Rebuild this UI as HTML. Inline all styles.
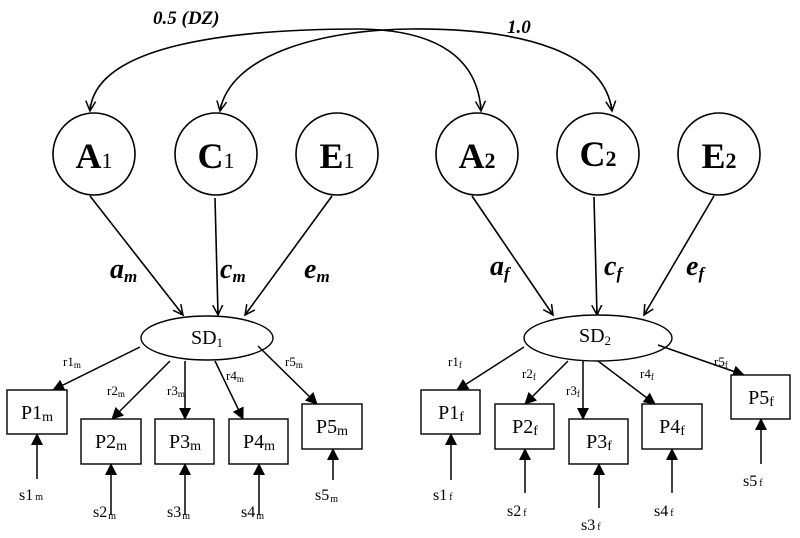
<!DOCTYPE html>
<html><head><meta charset="utf-8"><style>
html,body{margin:0;padding:0;background:#fff;}
svg{display:block;}
.l{font-family:"Liberation Serif",serif;}
</style></head><body>
<svg width="800" height="538" viewBox="0 0 800 538" xmlns="http://www.w3.org/2000/svg">
<defs>
<marker id="v" markerWidth="12" markerHeight="12" refX="10" refY="6" orient="auto-start-reverse" markerUnits="userSpaceOnUse">
<path d="M0,1 L10,6 L0,11 M10,6 L3,6" fill="none" stroke="#000" stroke-width="1.5"/>
</marker>
<marker id="t" markerWidth="12" markerHeight="12" refX="11" refY="6" orient="auto" markerUnits="userSpaceOnUse">
<path d="M0,0 L12,6 L0,12 Z" fill="#000"/>
</marker>
</defs>
<g fill="none" stroke="#000" stroke-width="1.6">
<path d="M90,111 C95,45 230,29 360,29 C440,30 478,60 481,111" marker-start="url(#v)" marker-end="url(#v)"/>
<path d="M220,111 C230,55 320,30 410,29 C530,28 605,55 612,111" marker-start="url(#v)" marker-end="url(#v)"/>
</g>
<g fill="#fff" stroke="#000" stroke-width="1.6">
<circle cx="94" cy="154" r="41"/><circle cx="216" cy="154" r="41"/><circle cx="337" cy="154" r="41"/>
<circle cx="477" cy="154" r="41"/><circle cx="598" cy="154" r="41"/><circle cx="719" cy="154" r="41"/>
</g>
<g class="l" font-weight="bold" font-size="36" text-anchor="middle">
<text x="94" y="168">A<tspan font-size="22" font-weight="normal">1</tspan></text>
<text x="216" y="168">C<tspan font-size="22" font-weight="normal">1</tspan></text>
<text x="337" y="168">E<tspan font-size="22" font-weight="normal">1</tspan></text>
<text x="477" y="168">A<tspan font-size="22">2</tspan></text>
<text x="598" y="166">C<tspan font-size="22">2</tspan></text>
<text x="719" y="168">E<tspan font-size="22">2</tspan></text>
</g>
<g class="l" font-weight="bold" font-style="italic">
<text x="153" y="24" font-size="19">0.5 (DZ)</text>
<text x="507" y="33" font-size="19">1.0</text>
<text x="110" y="278" font-size="28">a<tspan font-size="17" dy="4">m</tspan></text>
<text x="220" y="278" font-size="28">c<tspan font-size="17" dy="4">m</tspan></text>
<text x="304" y="278" font-size="28">e<tspan font-size="17" dy="4">m</tspan></text>
<text x="490" y="275" font-size="28">a<tspan font-size="17" dy="4">f</tspan></text>
<text x="604" y="275" font-size="28">c<tspan font-size="17" dy="4">f</tspan></text>
<text x="686" y="275" font-size="28">e<tspan font-size="17" dy="4">f</tspan></text>
</g>
<g fill="none" stroke="#000" stroke-width="1.6" marker-end="url(#v)">
<line x1="90" y1="196" x2="183" y2="315"/>
<line x1="215" y1="198" x2="218" y2="315"/>
<line x1="332" y1="196" x2="245" y2="315"/>
<line x1="472" y1="196" x2="553" y2="315"/>
<line x1="594" y1="197" x2="597" y2="315"/>
<line x1="714" y1="196" x2="644" y2="315"/>
</g>
<g fill="#fff" stroke="#000" stroke-width="1.4">
<ellipse cx="207" cy="338" rx="66" ry="22"/>
<ellipse cx="598" cy="338" rx="74" ry="23"/>
</g>
<g class="l" font-size="20" text-anchor="middle">
<text x="207" y="344">SD<tspan font-size="13" dy="3">1</tspan></text>
<text x="595" y="342">SD<tspan font-size="13" dy="3">2</tspan></text>
</g>
<g fill="none" stroke="#000" stroke-width="1.5" marker-end="url(#t)">
<line x1="140" y1="347" x2="53" y2="390"/>
<line x1="170" y1="361" x2="112" y2="419"/>
<line x1="185" y1="361" x2="185" y2="419"/>
<line x1="215" y1="361" x2="243" y2="419"/>
<line x1="258" y1="346" x2="317" y2="404"/>
<line x1="524" y1="347" x2="457" y2="390"/>
<line x1="568" y1="361" x2="525" y2="404"/>
<line x1="583" y1="361" x2="583" y2="419"/>
<line x1="598" y1="361" x2="655" y2="404"/>
<line x1="658" y1="345" x2="744" y2="375"/>
<line x1="37" y1="479" x2="37" y2="434"/>
<line x1="111" y1="515" x2="111" y2="464"/>
<line x1="185" y1="515" x2="185" y2="464"/>
<line x1="259" y1="515" x2="259" y2="464"/>
<line x1="333" y1="480" x2="333" y2="449"/>
<line x1="451" y1="480" x2="451" y2="434"/>
<line x1="525" y1="493" x2="525" y2="449"/>
<line x1="599" y1="508" x2="599" y2="464"/>
<line x1="672" y1="493" x2="672" y2="449"/>
<line x1="761" y1="464" x2="761" y2="419"/>
</g>
<g fill="#fff" stroke="#000" stroke-width="1.4">
<rect x="7" y="390" width="60" height="44"/>
<rect x="81" y="419" width="60" height="45"/>
<rect x="155" y="419" width="59" height="45"/>
<rect x="229" y="419" width="59" height="45"/>
<rect x="302" y="404" width="60" height="45"/>
<rect x="421" y="390" width="59" height="44"/>
<rect x="495" y="404" width="59" height="45"/>
<rect x="569" y="419" width="59" height="45"/>
<rect x="642" y="404" width="60" height="45"/>
<rect x="731" y="375" width="59" height="44"/>
</g>
<g class="l" font-size="20" text-anchor="middle">
<text x="37" y="419">P1<tspan font-size="14" dy="2">m</tspan></text>
<text x="111" y="448">P2<tspan font-size="14" dy="2">m</tspan></text>
<text x="185" y="448">P3<tspan font-size="14" dy="2">m</tspan></text>
<text x="259" y="448">P4<tspan font-size="14" dy="2">m</tspan></text>
<text x="332" y="433">P5<tspan font-size="14" dy="2">m</tspan></text>
<text x="451" y="419">P1<tspan font-size="14" dy="2">f</tspan></text>
<text x="525" y="433">P2<tspan font-size="14" dy="2">f</tspan></text>
<text x="599" y="448">P3<tspan font-size="14" dy="2">f</tspan></text>
<text x="672" y="433">P4<tspan font-size="14" dy="2">f</tspan></text>
<text x="761" y="404">P5<tspan font-size="14" dy="2">f</tspan></text>
</g>
<g class="l" font-size="13">
<text x="63" y="366">r1<tspan font-size="9" dy="2">m</tspan></text>
<text x="107" y="395">r2<tspan font-size="9" dy="2">m</tspan></text>
<text x="167" y="395">r3<tspan font-size="9" dy="2">m</tspan></text>
<text x="226" y="380">r4<tspan font-size="9" dy="2">m</tspan></text>
<text x="285" y="366">r5<tspan font-size="9" dy="2">m</tspan></text>
<text x="448" y="366">r1<tspan font-size="9" dy="2">f</tspan></text>
<text x="522" y="378">r2<tspan font-size="9" dy="2">f</tspan></text>
<text x="566" y="395">r3<tspan font-size="9" dy="2">f</tspan></text>
<text x="640" y="378">r4<tspan font-size="9" dy="2">f</tspan></text>
<text x="714" y="366">r5<tspan font-size="9" dy="2">f</tspan></text>
</g>
<g class="l" font-size="16">
<text x="19" y="500">s1<tspan font-size="10" dx="2">m</tspan></text>
<text x="93" y="517">s2<tspan font-size="10" dx="1" dy="2">m</tspan></text>
<text x="167" y="517">s3<tspan font-size="10" dx="1" dy="2">m</tspan></text>
<text x="241" y="517">s4<tspan font-size="10" dx="1" dy="2">m</tspan></text>
<text x="315" y="500">s5<tspan font-size="10" dx="1" dy="2">m</tspan></text>
<text x="433" y="500">s1<tspan font-size="10" dx="2">f</tspan></text>
<text x="507" y="516">s2<tspan font-size="10" dx="2">f</tspan></text>
<text x="581" y="530">s3<tspan font-size="10" dx="2">f</tspan></text>
<text x="654" y="516">s4<tspan font-size="10" dx="2">f</tspan></text>
<text x="743" y="486">s5<tspan font-size="10" dx="2">f</tspan></text>
</g>
</svg>
</body></html>
